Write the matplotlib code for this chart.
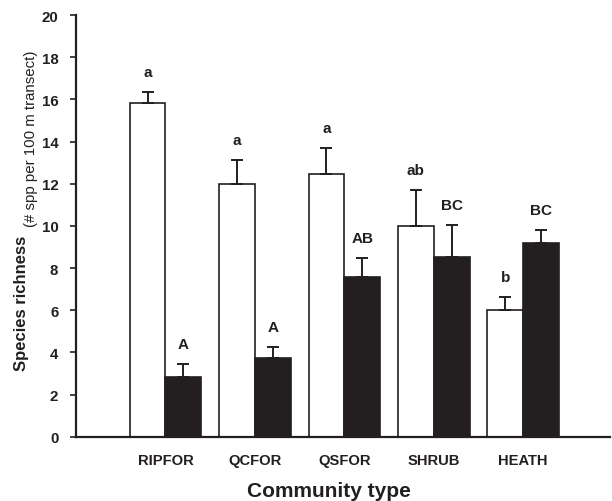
import matplotlib
matplotlib.use("Agg")
import matplotlib.pyplot as plt
import numpy as np

plt.rcParams["font.family"] = ["Liberation Sans", "DejaVu Sans"]

communities = ["RIPFOR", "QCFOR", "QSFOR", "SHRUB", "HEATH"]
white_mean = [15.85, 12.0, 12.45, 10.0, 6.0]
white_se = [0.52, 1.12, 1.22, 1.7, 0.64]
black_mean = [2.82, 3.72, 7.58, 8.5, 9.2]
black_se = [0.62, 0.52, 0.9, 1.52, 0.58]
white_letters = ["a", "a", "a", "ab", "b"]
black_letters = ["A", "A", "AB", "BC", "BC"]

ink = "#231f20"
fig = plt.figure(figsize=(6.12, 5.02), dpi=100)
ax = fig.add_axes([76 / 612, 1 - 437.7 / 502, 534 / 612, 421.7 / 502])

x = np.arange(len(communities))
w = 0.4
err_kw = dict(ecolor=ink, elinewidth=1.4, capsize=4.3, capthick=1.4)
ax.bar(x - w / 2, white_mean, w, color="white", edgecolor=ink, linewidth=1.2,
       yerr=[np.zeros(5), white_se], error_kw=err_kw, zorder=2)
ax.bar(x + w / 2, black_mean, w, color=ink, edgecolor=ink, linewidth=1.2,
       yerr=[np.zeros(5), black_se], error_kw=err_kw, zorder=2)

for i in range(len(communities)):
    ax.text(x[i] - w / 2, white_mean[i] + white_se[i] + 0.95, white_letters[i],
            ha="center", va="center", fontsize=11, fontweight="bold", color=ink)
    ax.text(x[i] + w / 2, black_mean[i] + black_se[i] + 0.95, black_letters[i],
            ha="center", va="center", fontsize=11, fontweight="bold", color=ink)

ax.set_xlim(-1, 4.97)
ax.set_ylim(0, 20)
ax.set_yticks(np.arange(0, 21, 2))
ax.set_xticks(x)
ax.set_xticklabels(communities)
for s in ["top", "right"]:
    ax.spines[s].set_visible(False)
for s in ["left", "bottom"]:
    ax.spines[s].set_linewidth(1.6)
    ax.spines[s].set_color(ink)
ax.tick_params(axis="y", direction="out", length=4.3, width=1.2, pad=8.4,
               colors=ink, labelsize=10.8)
ax.tick_params(axis="x", length=0, pad=12, colors=ink, labelsize=10.6)
for lab in ax.get_xticklabels() + ax.get_yticklabels():
    lab.set_fontweight("bold")

fig.text(21.5 / 612, 1 - 303 / 502, "Species richness", rotation=90, ha="center",
         va="center", fontsize=12, fontweight="bold", color=ink)
fig.text(31 / 612, 1 - 139 / 502, "(# spp per 100 m transect)", rotation=90,
         ha="center", va="center", fontsize=10.8, color=ink)
fig.text(329 / 612, 1 - 496.7 / 502, "Community type", ha="center", va="baseline",
         fontsize=15, fontweight="bold", color=ink)

fig.savefig("out.png", dpi=100)
